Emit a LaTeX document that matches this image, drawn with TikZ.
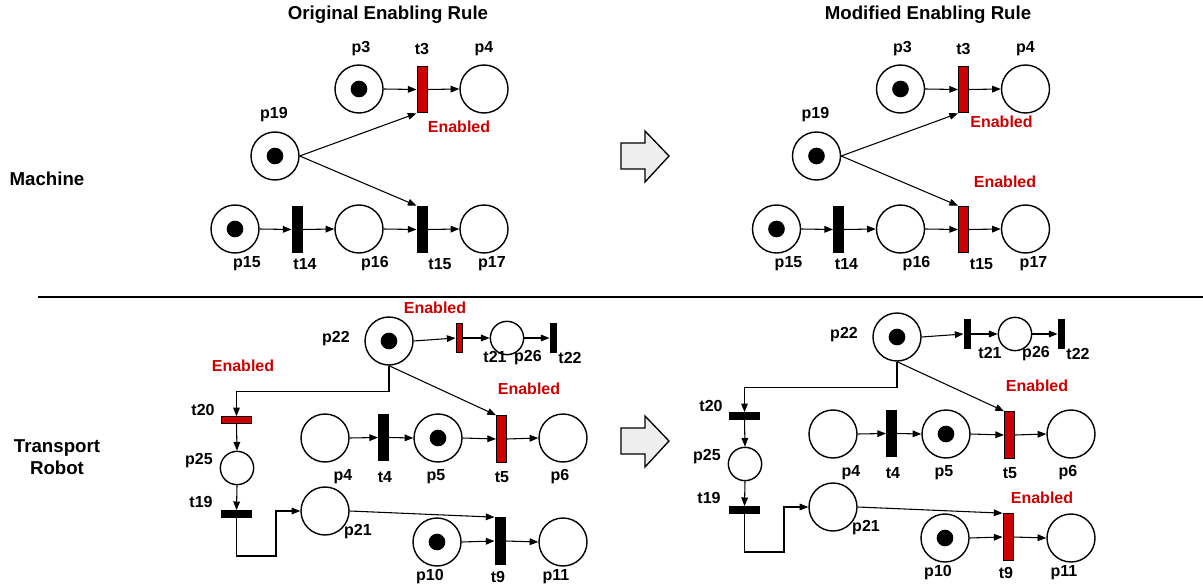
\documentclass[tikz,border=0pt]{standalone}
\usepackage{fontspec}
\setmainfont{Liberation Sans}
\usetikzlibrary{arrows.meta}
\definecolor{enred}{HTML}{CC0000}
\definecolor{bigarrow}{HTML}{EEEEEE}
\tikzset{
  place/.style={circle, draw, line width=1.05pt, minimum size=36pt, inner sep=0pt},
  splace/.style={place, minimum size=25pt},
  tok/.style={circle, fill=black, minimum size=12.5pt, inner sep=0pt},
  vbar/.style={rectangle, draw, line width=0.75pt, fill=black, minimum width=7.5pt, minimum height=35pt, inner sep=0pt},
  vbarred/.style={vbar, fill=enred},
  sbar/.style={rectangle, draw, line width=0.75pt, fill=black, minimum width=5.2pt, minimum height=22pt, inner sep=0pt},
  sbarred/.style={sbar, fill=enred},
  hbar/.style={rectangle, draw, line width=0.75pt, fill=black, minimum width=22pt, minimum height=5pt, inner sep=0pt},
  hbarred/.style={hbar, fill=enred},
  lab/.style={font=\fontsize{12}{14}\selectfont\bfseries, inner sep=0pt},
  enab/.style={lab, text=enred},
  head/.style={font=\fontsize{14}{17}\selectfont\bfseries, inner sep=0pt, align=center},
  arc/.style={-{Triangle[length=6.5pt,width=5pt]}, line width=0.8pt},
  bigarr/.style={fill=bigarrow, draw, line width=1pt, line join=miter}
}
% Machine net, left-panel coordinates; #1 = style of t15
\newcommand\machinenet[1]{%
  \node[place] (p3) at (359,89) {};
  \node[tok] (p3k) at (p3) {};
  \node[vbarred] (t3) at (422,89.5) {};
  \node[place] (p4) at (484,89) {};
  \node[place] (p19) at (275,156) {};
  \node[tok] (p19k) at (p19) {};
  \node[place] (p15) at (235,229) {};
  \node[tok] (p15k) at (p15) {};
  \node[vbar] (t14) at (297,229.5) {};
  \node[place] (p16) at (359,229) {};
  \node[#1] (t15) at (422,229.5) {};
  \node[place] (p17) at (484,229) {};
  \node[lab] (lp3) at (361,49) {p3};
  \node[lab] (lt3) at (422,49) {t3};
  \node[lab] (lp4) at (484,49) {p4};
  \node[lab] (lp19) at (274,115) {p19};
  \node[lab] (lp15) at (247,264) {p15};
  \node[lab] (lt14) at (305,264) {t14};
  \node[lab] (lp16) at (375,264) {p16};
  \node[lab] (lt15) at (440,264) {t15};
  \node[lab] (lp17) at (492,264) {p17};
  \draw[arc] (p3.east) -- (t3.west);
  \draw[arc] (t3.east) -- (p4.west);
  \draw[arc] (p19.east) -- (t3.south west);
  \draw[arc] (p19.east) -- (t15.north west);
  \draw[arc] (p15.east) -- (t14.west);
  \draw[arc] (t14.east) -- (p16.west);
  \draw[arc] (p16.east) -- (t15.west);
  \draw[arc] (t15.east) -- (p17.west);
}
% Robot net, left-panel coordinates; #1 t20, #2 t21, #3 t9 styles, #4 x of t21 label
\newcommand\robotnet[4]{%
  \node[place] (p22) at (389,341) {};
  \node[tok] (p22k) at (p22) {};
  \node[#2] (t21) at (459.5,338) {};
  \node[splace] (p26) at (507,338) {};
  \node[sbar] (t22) at (553.5,338) {};
  \node[#1] (t20) at (236.5,420) {};
  \node[splace] (p25) at (237,468) {};
  \node[hbar] (t19) at (236.5,514) {};
  \node[place] (p21) at (325,511) {};
  \node[place] (p4) at (325,438) {};
  \node[vbar] (t4) at (383.5,437.5) {};
  \node[place] (p5) at (438,438) {};
  \node[tok] (p5k) at (p5) {};
  \node[vbarred] (t5) at (501.5,439) {};
  \node[place] (p6) at (563,438) {};
  \node[place] (p10) at (437,542) {};
  \node[tok] (p10k) at (p10) {};
  \node[#3] (t9) at (500,541) {};
  \node[place] (p11) at (563,542) {};
  \coordinate (k) at (276,556);
  \node[lab] (lp22) at (336,339) {p22};
  \node[lab] (lt21) at (#4,357) {t21};
  \node[lab] (lp26) at (528,358) {p26};
  \node[lab] (lt22) at (570,358) {t22};
  \node[lab] (lt20) at (203,410) {t20};
  \node[lab] (lp25) at (199,461) {p25};
  \node[lab] (lt19) at (201,502) {t19};
  \node[lab] (lp21) at (358,532) {p21};
  \node[lab] (lp4) at (343,477) {p4};
  \node[lab] (lt4) at (385,477) {t4};
  \node[lab] (lp5) at (436,477) {p5};
  \node[lab] (lt5) at (502,477) {t5};
  \node[lab] (lp6) at (560,477) {p6};
  \node[lab] (lp10) at (430,577) {p10};
  \node[lab] (lt9) at (498,577) {t9};
  \node[lab] (lp11) at (556,577) {p11};
  \draw[arc] (p22.east) -- (t21.west);
  \draw[arc] (t21.east) -- (p26.west);
  \draw[arc] (p26.east) -- (t22.west);
  \draw[arc] (p22.south) -- ++(0,26) -| (t20.north);
  \draw[arc] (t20.south) -- (p25.north);
  \draw[arc] (p25.south) -- (t19.north);
  \draw[arc] (t19.south) |- (k) |- (p21.west);
  \draw[arc] (p21.east) -- (t9.north west);
  \draw[arc] (p10.east) -- (t9.west);
  \draw[arc] (t9.east) -- (p11.west);
  \draw[arc] (p4.east) -- (t4.west);
  \draw[arc] (t4.east) -- (p5.west);
  \draw[arc] (p5.east) -- (t5.west);
  \draw[arc] (t5.east) -- (p6.west);
  \draw[arc] (p22.south) -- (t5.north west);
}
\begin{document}
\begin{tikzpicture}[x=0.75pt,y=-0.75pt]
\useasboundingbox (0,0) rectangle (1203,588);
% headings
\node[head] (h1) at (388,15) {Original Enabling Rule};
\node[head] (h2) at (928,15) {Modified Enabling Rule};
\node[head] (hm) at (47,179) {Machine};
\node[head] (hr) at (57,457) {Transport\\Robot};
% separator
\draw[line width=1.1pt] (38,297) -- (1203,297);
% big arrows
\draw[bigarr] (621,143) -- (645,143) -- (645,131) -- (669,156) -- (645,182) -- (645,169) -- (621,169) -- cycle;
\draw[bigarr] (621,428) -- (645,428) -- (645,416) -- (669,441) -- (645,467) -- (645,454) -- (621,454) -- cycle;
% machine nets
\begin{scope}[name prefix=ML-]
  \machinenet{vbar}
  \node[enab] (en1) at (459,127) {Enabled};
\end{scope}
\begin{scope}[shift={(541.5,0)}, name prefix=MR-]
  \machinenet{vbarred}
  \node[enab] (en1) at (460,122) {Enabled};
  \node[enab] (en2) at (463.5,182) {Enabled};
\end{scope}
% robot nets
\begin{scope}[name prefix=RL-]
  \robotnet{hbarred}{sbarred}{vbar}{495}
  \node[enab] (en1) at (435,308) {Enabled};
  \node[enab] (en2) at (243,366) {Enabled};
  \node[enab] (en3) at (529,389) {Enabled};
\end{scope}
\begin{scope}[shift={(508,-4)}, name prefix=RR-]
  \robotnet{hbar}{sbar}{vbarred}{482}
  \node[enab] (en3) at (529,390) {Enabled};
  \node[enab] (en4) at (534,502) {Enabled};
\end{scope}
\end{tikzpicture}
\end{document}
